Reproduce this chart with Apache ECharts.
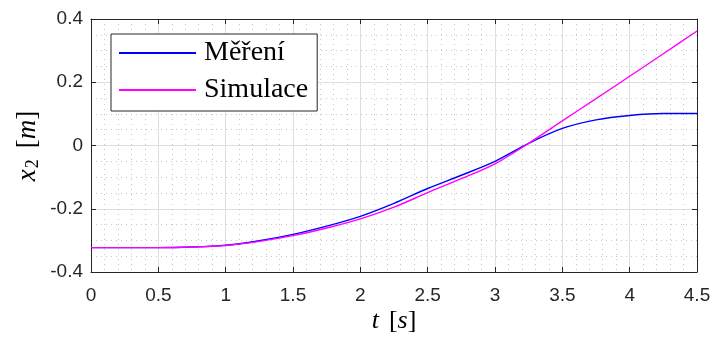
<!DOCTYPE html>
<html>
<head>
<meta charset="utf-8">
<script src="https://cdn.jsdelivr.net/npm/echarts@6/dist/echarts.min.js"></script>
<style>
  html, body { margin: 0; padding: 0; background: #fff; }
  #chart { width: 716px; height: 343px; }
</style>
</head>
<body>
<div id="chart"></div>
<script>
// time samples [s]
const time = [0, 0.25, 0.5, 0.75, 1, 1.25, 1.5, 1.75, 2, 2.25, 2.5, 2.75, 3, 3.25, 3.5, 3.75, 4, 4.25, 4.5];
// measured position x2 [m]
const mereni = [-0.323, -0.323, -0.323, -0.321, -0.315, -0.301, -0.281, -0.255, -0.224, -0.183, -0.136, -0.094, -0.050, 0.007, 0.054, 0.081, 0.095, 0.101, 0.101];
// simulated position x2 [m]
const simulace = [-0.323, -0.323, -0.323, -0.321, -0.316, -0.303, -0.285, -0.261, -0.232, -0.195, -0.149, -0.105, -0.058, 0.007, 0.078, 0.148, 0.219, 0.290, 0.362];
// axis ticks
const xTicks = [0, 0.5, 1, 1.5, 2, 2.5, 3, 3.5, 4, 4.5];
const yTicks = [-0.4, -0.2, 0, 0.2, 0.4];

const pairs = (ys) => time.map((t, i) => [t, ys[i]]);

const axisColor = '#262626';
const tickFont = { fontFamily: 'Liberation Sans, Arial, sans-serif', fontSize: 19, color: axisColor };
const serif = 'Liberation Serif, Times New Roman, serif';

const chart = echarts.init(document.getElementById('chart'), null, { renderer: 'canvas' });

const baseX = {
  type: 'value',
  min: xTicks[0],
  max: xTicks[xTicks.length - 1],
  interval: 0.5,
  axisLine: { show: true, onZero: false, lineStyle: { color: axisColor, width: 1 } },
  axisTick: { show: true, inside: true, length: 5, lineStyle: { color: axisColor } },
};
const baseY = {
  type: 'value',
  min: yTicks[0],
  max: yTicks[yTicks.length - 1],
  interval: 0.2,
  axisLine: { show: true, onZero: false, lineStyle: { color: axisColor, width: 1 } },
  axisTick: { show: true, inside: true, length: 5, lineStyle: { color: axisColor } },
};

const minorLine = { show: true, lineStyle: { color: '#c8c8c8', width: 1, type: [1, 4] } };

chart.setOption({
  animation: false,
  backgroundColor: '#ffffff',
  grid: { left: 91, right: 19, top: 19, bottom: 71, containLabel: false },
  xAxis: [
    Object.assign({}, baseX, {
      position: 'bottom',
      axisLabel: Object.assign({ margin: 14, formatter: (v) => String(v) }, tickFont),
      splitLine: { show: true, lineStyle: { color: '#dedede', width: 1 } },
      minorTick: { show: false, splitNumber: 5 },
      minorSplitLine: minorLine,
    }),
    Object.assign({}, baseX, {
      position: 'top',
      axisLabel: { show: false },
      splitLine: { show: false },
    }),
  ],
  yAxis: [
    Object.assign({}, baseY, {
      position: 'left',
      axisLabel: Object.assign({ margin: 8, formatter: (v) => String(Math.round(v * 10) / 10) }, tickFont),
      splitLine: { show: true, lineStyle: { color: '#dedede', width: 1 } },
      minorTick: { show: false, splitNumber: 4 },
      minorSplitLine: minorLine,
    }),
    Object.assign({}, baseY, {
      position: 'right',
      axisLabel: { show: false },
      splitLine: { show: false },
    }),
  ],
  legend: {
    orient: 'vertical',
    left: 111,
    top: 34,
    padding: [4, 9, 6, 8],
    itemGap: 7,
    itemWidth: 77,
    itemHeight: 2,
    icon: 'rect',
    backgroundColor: '#ffffff',
    borderColor: axisColor,
    borderWidth: 1,
    borderRadius: 0,
    textStyle: { fontFamily: serif, fontSize: 28, color: '#000', lineHeight: 30, padding: [0, 0, 0, 3] },
    data: ['Měření', 'Simulace'],
  },
  graphic: [
    {
      type: 'text',
      x: 394, y: 321,
      style: {
        text: '{i|t}{lb|[}{i|s}{n|]}',
        align: 'center', verticalAlign: 'middle',
        rich: {
          i: { fontFamily: serif, fontStyle: 'italic', fontSize: 26, fill: '#000' },
          n: { fontFamily: serif, fontSize: 26, fill: '#000' },
          lb: { fontFamily: serif, fontSize: 26, fill: '#000', padding: [0, 0, 0, 10] },
        },
      },
    },
    {
      type: 'text',
      x: 28, y: 146,
      rotation: Math.PI / 2,
      style: {
        text: '{i|x}{sub|2}{n|[}{i|m}{n|]}',
        align: 'center', verticalAlign: 'middle',
        rich: {
          i: { fontFamily: serif, fontStyle: 'italic', fontSize: 27, fill: '#000' },
          n: { fontFamily: serif, fontSize: 27, fill: '#000' },
          sub: { fontFamily: serif, fontSize: 18, fill: '#000', padding: [10, 11, 0, 1] },
        },
      },
    },
  ],
  series: [
    {
      name: 'Měření',
      type: 'line',
      data: pairs(mereni),
      smooth: 0.3,
      showSymbol: false,
      color: '#0000ff',
      lineStyle: { color: '#0000ff', width: 1.4 },
      z: 3,
    },
    {
      name: 'Simulace',
      type: 'line',
      data: pairs(simulace),
      smooth: 0.3,
      showSymbol: false,
      color: '#ff00ff',
      lineStyle: { color: '#ff00ff', width: 1.4 },
      z: 4,
    },
  ],
});
</script>
</body>
</html>
